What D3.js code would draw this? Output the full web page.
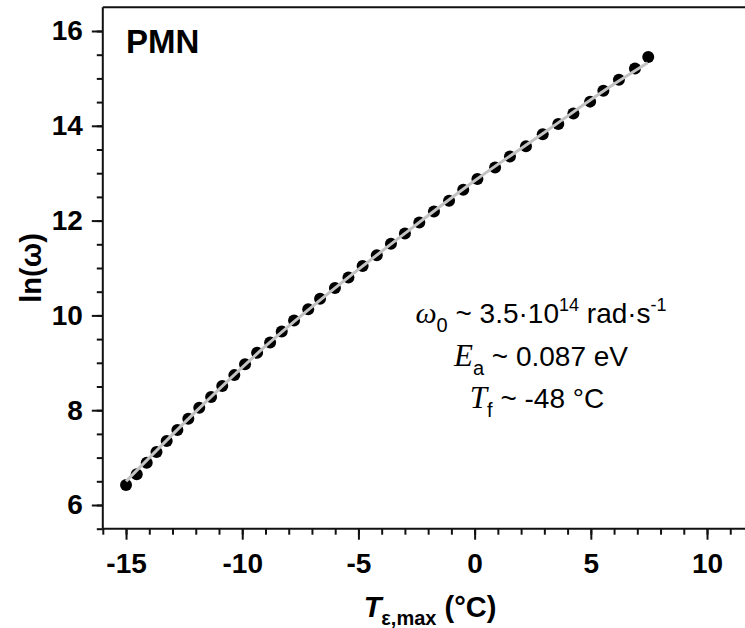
<!DOCTYPE html>
<html>
<head>
<meta charset="utf-8">
<script src="https://cdn.jsdelivr.net/npm/d3@7/dist/d3.min.js"></script>
<style>
  html, body { margin: 0; padding: 0; background: #fff; }
  svg { display: block; }
</style>
</head>
<body>
<svg id="chart" width="745" height="628"></svg>
<script>
// Peak temperature of the permittivity vs. ln of the measuring frequency (PMN)
const tempMax = [-15.00, -14.54, -14.11, -13.69, -13.25, -12.79, -12.32, -11.85, -11.34, -10.86,
                 -10.34, -9.88, -9.36, -8.80, -8.30, -7.77, -7.16, -6.65, -6.01, -5.43,
                 -4.82, -4.21, -3.60, -3.00, -2.38, -1.75, -1.10, -0.49, 0.12, 0.88,
                 1.52, 2.21, 2.93, 3.60, 4.25, 4.97, 5.54, 6.21, 6.90, 7.47];
const lnOmega = [6.42, 6.65, 6.89, 7.12, 7.35, 7.58, 7.82, 8.05, 8.28, 8.51,
                 8.74, 8.97, 9.21, 9.43, 9.66, 9.89, 10.13, 10.35, 10.58, 10.80,
                 11.04, 11.27, 11.51, 11.73, 11.96, 12.19, 12.42, 12.65, 12.88, 13.12,
                 13.35, 13.57, 13.82, 14.04, 14.26, 14.51, 14.74, 14.97, 15.21, 15.45];

// Vogel-Fulcher fit curve
const fitT = [-15, -12, -9, -6, -3, 0, 3, 6, 7.45];
const fitLn = [6.50, 7.97, 9.35, 10.58, 11.73, 12.84, 13.86, 14.88, 15.33];

const xTickLabels = [-15, -10, -5, 0, 5, 10];
const yTickLabels = [6, 8, 10, 12, 14, 16];

const svg = d3.select("#chart");
const sansBold = "'Liberation Sans', Arial, sans-serif";

const x = d3.scaleLinear().domain([-16, 12]).range([102.8, 753.5]);
const y = d3.scaleLinear().domain([5.5, 16.5]).range([528.7, 7.3]);

const axisColor = "#111";

// minor ticks
const gxMinor = svg.append("g").attr("transform", `translate(0,${y(5.5)})`)
  .call(d3.axisBottom(x).tickValues(d3.range(-16, 13, 1)).tickSize(6).tickFormat(""));
const gyMinor = svg.append("g").attr("transform", `translate(${x(-16)},0)`)
  .call(d3.axisLeft(y).tickValues(d3.range(5.5, 16.01, 0.5)).tickSize(6).tickFormat(""));

// major ticks with labels
const gx = svg.append("g").attr("transform", `translate(0,${y(5.5)})`)
  .call(d3.axisBottom(x).tickValues(xTickLabels).tickSize(11).tickFormat(d => String(d)));
const gy = svg.append("g").attr("transform", `translate(${x(-16)},0)`)
  .call(d3.axisLeft(y).tickValues(yTickLabels).tickSize(11).tickFormat(d => String(d)));

[gxMinor, gyMinor, gx, gy].forEach(g => {
  g.selectAll(".domain").remove();
  g.selectAll(".tick line").attr("stroke", axisColor).attr("stroke-width", 2);
});
gx.selectAll(".tick text").attr("y", 24).attr("fill", "#000")
  .style("font-family", sansBold).style("font-weight", "bold").style("font-size", "28px");
gy.selectAll(".tick text").attr("x", -20).attr("fill", "#000")
  .style("font-family", sansBold).style("font-weight", "bold").style("font-size", "28px");

// frame: left, bottom and top edges
const frame = svg.append("g").attr("stroke", axisColor).attr("stroke-width", 2).attr("fill", "none");
frame.append("line").attr("x1", x(-16)).attr("x2", x(-16)).attr("y1", y(16.5)).attr("y2", y(5.5));
frame.append("line").attr("x1", x(-16)).attr("x2", x(12)).attr("y1", y(5.5)).attr("y2", y(5.5));
frame.append("line").attr("x1", x(-16)).attr("x2", x(12)).attr("y1", y(16.5)).attr("y2", y(16.5));

// data points
svg.append("g").selectAll("circle")
  .data(tempMax.map((t, i) => [t, lnOmega[i]]))
  .join("circle")
  .attr("cx", d => x(d[0]))
  .attr("cy", d => y(d[1]))
  .attr("r", 6)
  .attr("fill", "#000");

// fit line drawn over the points
svg.append("path")
  .datum(fitT.map((t, i) => [t, fitLn[i]]))
  .attr("fill", "none")
  .attr("stroke", "#c3c3c3")
  .attr("stroke-width", 3)
  .attr("d", d3.line().x(d => x(d[0])).y(d => y(d[1])).curve(d3.curveMonotoneX));

// rich text helper: segments with their own font and baseline offset
function richText(parent, px, py, anchor, segments) {
  const t = parent.append("text").attr("x", px).attr("y", py)
    .attr("text-anchor", anchor).attr("fill", "#000");
  let prev = 0;
  segments.forEach(s => {
    const sh = s.shift || 0;
    t.append("tspan")
      .attr("dy", sh - prev)
      .style("font-family", s.family || "'Liberation Sans', Arial, sans-serif")
      .style("font-size", (s.size || 28) + "px")
      .style("font-weight", s.weight || "normal")
      .style("font-style", s.style || "normal")
      .text(s.text);
    prev = sh;
  });
  return t;
}

const serif = "'Liberation Serif', 'Times New Roman', serif";

// sample label
svg.append("text").attr("x", 126).attr("y", 53)
  .style("font-family", sansBold).style("font-weight", "bold").style("font-size", "33px")
  .text("PMN");

// fit parameters
const ann = svg.append("g");
richText(ann, 541, 323, "middle", [
  { text: "ω", family: serif, style: "italic", size: 30 },
  { text: "0", size: 20, shift: 9 },
  { text: " ~ 3.5·10" },
  { text: "14", size: 18, shift: -12 },
  { text: " rad·s" },
  { text: "-1", size: 18, shift: -12 }
]);
richText(ann, 541, 366, "middle", [
  { text: "E", family: serif, style: "italic", size: 31 },
  { text: "a", size: 20, shift: 9 },
  { text: " ~ 0.087 eV" }
]);
richText(ann, 537, 408, "middle", [
  { text: "T", family: serif, style: "italic", size: 31 },
  { text: "f", size: 20, shift: 9 },
  { text: " ~ -48 °C" }
]);

// axis titles
richText(svg, 430, 617, "middle", [
  { text: "T", weight: "bold", style: "italic", size: 29 },
  { text: "ε,max", weight: "bold", size: 20, shift: 8 },
  { text: " (°C)", weight: "bold", size: 29 }
]);

svg.append("text")
  .attr("transform", `translate(41,${(y(5.5) + y(16.5)) / 2}) rotate(-90)`)
  .attr("text-anchor", "middle")
  .style("font-family", sansBold).style("font-weight", "bold").style("font-size", "29px")
  .text("ln(ω)");
</script>
</body>
</html>
